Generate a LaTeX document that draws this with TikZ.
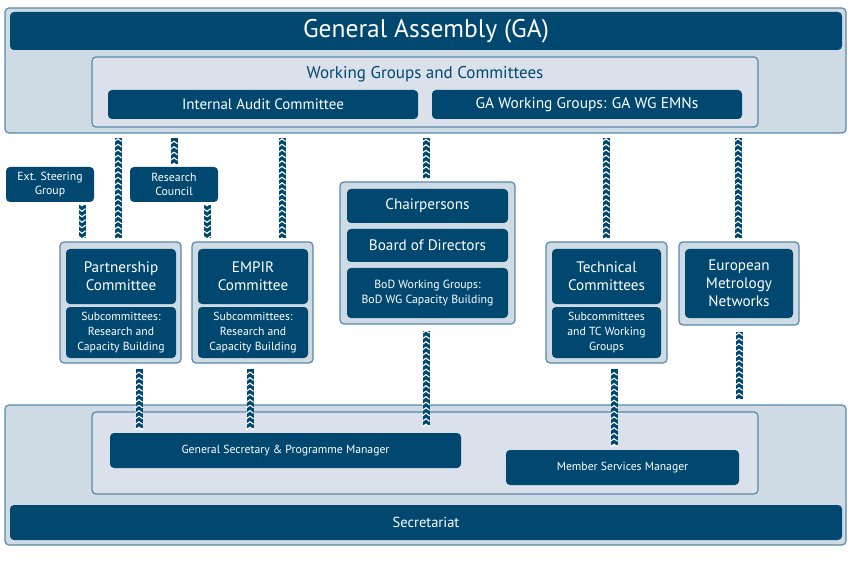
\documentclass[tikz,border=0pt]{standalone}
\usepackage{fontspec}
\setmainfont{PT Sans}
\usetikzlibrary{calc,decorations.markings}
\definecolor{dblue}{RGB}{0,72,112}
\definecolor{outerfill}{RGB}{206,219,229}
\definecolor{innerfill}{RGB}{219,225,235}
\definecolor{edge}{RGB}{88,136,170}
\tikzset{
  frame/.style={draw=edge, line width=1.2pt, fill=outerfill, rounded corners=4pt, inner sep=0pt},
  subframe/.style={draw=edge, line width=1.2pt, fill=innerfill, rounded corners=4pt, inner sep=0pt},
  dbox/.style={fill=dblue, text=white, rounded corners=4pt, align=center, inner sep=0pt},
  chev/.style={draw=dblue, line width=7pt,
    postaction={decorate, decoration={markings,
      mark=between positions 0.0 and 1 step 5.5pt with {\draw[white, line width=1.1pt, line join=miter] (-2pt,-3.6pt) -- (0.6pt,0) -- (-2pt,3.6pt);}}}}
}
\begin{document}
\begin{tikzpicture}[x=1pt,y=-1pt]
\useasboundingbox (0,0) rectangle (851,569);
% top block
\node[frame, minimum width=841pt, minimum height=125pt] (top) at (425.5,70.5) {};
\node[dbox, minimum width=832pt, minimum height=38pt, font=\fontsize{25.5}{28}\selectfont] (ga) at (426,31) {General Assembly (GA)};
\node[subframe, minimum width=666pt, minimum height=70pt] (wg) at (425,92) {};
\node[text=dblue, font=\fontsize{17}{20}\selectfont] (wgt) at (425,74) {Working Groups and Committees};
\node[dbox, minimum width=310pt, minimum height=29pt, font=\fontsize{15}{18}\selectfont] (iac) at (263,104.5) {Internal Audit Committee};
\node[dbox, minimum width=310pt, minimum height=29pt, font=\fontsize{15.5}{18}\selectfont] (gawg) at (587,104.5) {GA Working Groups: GA WG EMNs};
% side boxes
\node[dbox, minimum width=88pt, minimum height=35pt, font=\fontsize{11.8}{14}\selectfont] (esg) at (50,184.5) {Ext. Steering\\Group};
\node[dbox, minimum width=88pt, minimum height=35pt, font=\fontsize{11.8}{14}\selectfont] (rc) at (174,184.5) {Research\\Council};
% partnership
\node[frame, minimum width=121pt, minimum height=121pt] (pco) at (120.5,302.5) {};
\node[dbox, minimum width=110pt, minimum height=55pt, font=\fontsize{15.2}{18}\selectfont] (pc) at (121,276.5) {Partnership\\Committee};
\node[dbox, minimum width=110pt, minimum height=51pt, font=\fontsize{11.7}{14.8}\selectfont] (pcs) at (121,332.5) {Subcommittees:\\Research and\\Capacity Building};
% EMPIR
\node[frame, minimum width=121pt, minimum height=121pt] (emo) at (252.5,302.5) {};
\node[dbox, minimum width=110pt, minimum height=55pt, font=\fontsize{15.2}{18}\selectfont] (em) at (253,276.5) {EMPIR\\Committee};
\node[dbox, minimum width=110pt, minimum height=51pt, font=\fontsize{11.7}{14.8}\selectfont] (ems) at (253,332.5) {Subcommittees:\\Research and\\Capacity Building};
% chair group
\node[frame, minimum width=175pt, minimum height=142pt] (cho) at (427.5,253) {};
\node[dbox, minimum width=161pt, minimum height=34pt, font=\fontsize{15.2}{18}\selectfont] (ch) at (427.5,206) {Chairpersons};
\node[dbox, minimum width=161pt, minimum height=33pt, font=\fontsize{15.2}{18}\selectfont] (bod) at (427.5,245.5) {Board of Directors};
\node[dbox, minimum width=161pt, minimum height=50pt, font=\fontsize{11.8}{15}\selectfont] (bodwg) at (427.5,293) {BoD Working Groups:\\BoD WG Capacity Building};
% technical
\node[frame, minimum width=121pt, minimum height=121pt] (tco) at (606.5,302.5) {};
\node[dbox, minimum width=109pt, minimum height=55pt, font=\fontsize{15.2}{18}\selectfont] (tc) at (606.5,276.5) {Technical\\Committees};
\node[dbox, minimum width=109pt, minimum height=51pt, font=\fontsize{11.7}{14.8}\selectfont] (tcs) at (606.5,332.5) {Subcommittees\\and TC Working\\Groups};
% EMN
\node[frame, minimum width=120pt, minimum height=83pt] (emno) at (739,283.5) {};
\node[dbox, minimum width=108pt, minimum height=69pt, font=\fontsize{15.2}{18}\selectfont] (emn) at (739,283.5) {European\\Metrology\\Networks};
% bottom block
\node[frame, minimum width=841pt, minimum height=140pt] (bot) at (425.5,475) {};
\node[subframe, minimum width=666pt, minimum height=82pt] (bin) at (425,453) {};
\node[dbox, minimum width=351pt, minimum height=35pt, font=\fontsize{11.7}{14}\selectfont] (gs) at (285.5,450.5) {General Secretary \& Programme Manager};
\node[dbox, minimum width=233pt, minimum height=35pt, font=\fontsize{11.7}{14}\selectfont] (msm) at (622.5,467.5) {Member Services Manager};
\node[dbox, minimum width=832pt, minimum height=35pt, font=\fontsize{14.5}{17}\selectfont] (sec) at (426,522.5) {Secretariat};
% connectors to top block
\draw[chev] ($(pco.north)+(-2.5,-3)$) -- ($(pco.north |- top.south)+(-2.5,4)$);
\draw[chev] ($(rc.north)+(0,-3)$) -- ($(rc.north |- top.south)+(0,4)$);
\draw[chev] ($(esg.south)+(32,3)$) -- ($(pco.north)+(-38.5,-3)$);
\draw[chev] ($(rc.south)+(33,3)$) -- ($(emo.north)+(-45.5,-3)$);
\draw[chev] ($(emo.north)+(29.5,-3)$) -- ($(emo.north |- top.south)+(29.5,4)$);
\draw[chev] ($(cho.north)+(-1.5,-3)$) -- ($(cho.north |- top.south)+(-1.5,4)$);
\draw[chev] ($(tco.north)+(-0.5,-3)$) -- ($(tco.north |- top.south)+(-0.5,4)$);
\draw[chev] ($(emno.north)+(-1,-3)$) -- ($(emno.north |- top.south)+(-1,4)$);
% connectors to bottom block
\draw[chev] ($(gs.north -| pco.south)+(18.5,-5)$) -- ($(pco.south)+(18.5,5)$);
\draw[chev] ($(gs.north -| emo.south)+(-2.5,-5)$) -- ($(emo.south)+(-2.5,5)$);
\draw[chev] ($(gs.north -| cho.south)+(-1.5,-8)$) -- ($(cho.south)+(-1.5,6)$);
\draw[chev] ($(msm.north -| tco.south)+(7.5,-5)$) -- ($(tco.south)+(7.5,5)$);
\draw[chev] ($(bot.north -| emno.south)+(0,-5)$) -- ($(emno.south)+(0,6)$);
\end{tikzpicture}
\end{document}
